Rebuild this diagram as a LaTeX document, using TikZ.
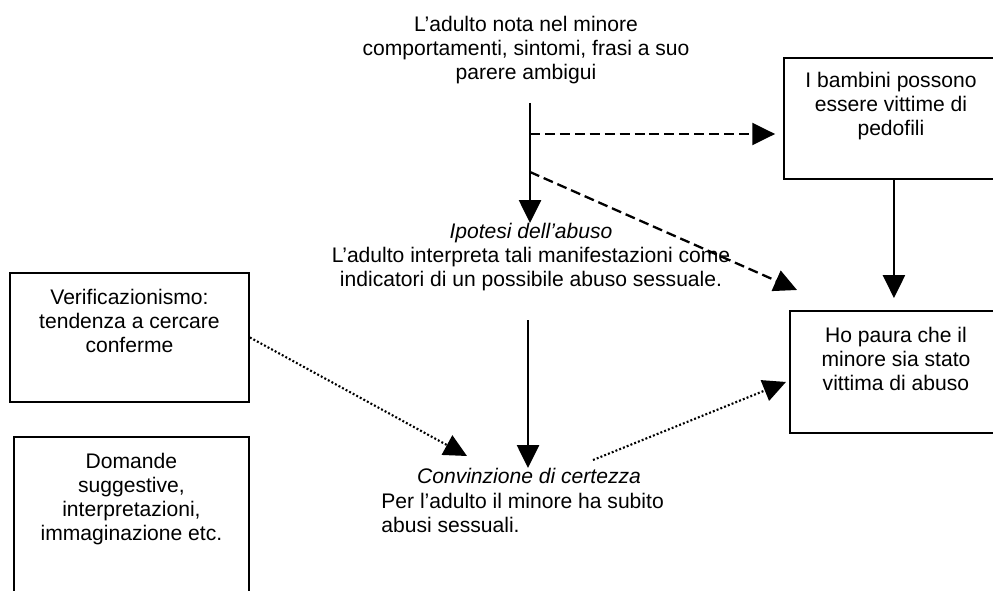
\documentclass[tikz,border=0pt]{standalone}
\usepackage{fontspec}
\setmainfont{Liberation Sans}
\usetikzlibrary{arrows.meta}

\begin{document}
\begin{tikzpicture}[x=0.02cm,y=-0.02cm,
  txt/.style={inner sep=0pt,align=center,font=\fontsize{12}{13.6}\selectfont},
  box/.style={draw,line width=1.1pt,anchor=north west,inner sep=0pt},
  arr/.style={line width=1.3pt,-{Triangle[length=13pt,width=12.5pt]}},
  dasharr/.style={arr,dash pattern=on 5.7pt off 2.8pt},
  dotarr/.style={arr,line width=1.2pt,dash pattern=on 1.1pt off 1.2pt}]
%Рамка рисунка
\useasboundingbox (0,0) rectangle (993,591);
\clip (0,0) rectangle (993,591);
%Тексты по центру
\node[txt,anchor=north] (nota) at (526,16) {L’adulto nota nel minore\\comportamenti, sintomi, frasi a suo\\parere ambigui};
\node[txt,anchor=north] (ipotesi) at (531,223) {\textit{Ipotesi dell’abuso}\\L’adulto interpreta tali manifestazioni come\\indicatori di un possibile abuso sessuale.};
\node[txt,anchor=north] (conv) at (529,468) {\textit{Convinzione di certezza}};
\node[txt,anchor=north west,align=left] (adulto) at (381,493) {Per l’adulto il minore ha subito\\abusi sessuali.};
%Рамки справа
\node[box,minimum width=4.28cm,minimum height=2.42cm] (bam) at (783,57) {};
\node[txt,anchor=north] (bamtxt) at ([yshift=-0.3cm]bam.north) {I bambini possono\\essere vittime di\\pedofili};
\node[box,minimum width=4.24cm,minimum height=2.44cm] (paura) at (789,310) {};
\node[txt,anchor=north] (pauratxt) at ([yshift=-0.34cm]paura.north) {Ho paura che il\\minore sia stato\\vittima di abuso};
%Рамки слева
\node[box,minimum width=4.78cm,minimum height=2.58cm] (verif) at (9,272) {};
\node[txt,anchor=north] (veriftxt) at ([yshift=-0.34cm]verif.north) {Verificazionismo:\\tendenza a cercare\\conferme};
\node[box,minimum width=4.70cm,minimum height=3.4cm] (dom) at (13,436) {};
\node[txt,anchor=north] (domtxt) at ([yshift=-0.34cm]dom.north) {Domande\\suggestive,\\interpretazioni,\\immaginazione etc.};
%Сплошные стрелки
\coordinate (v1) at (530,103);
\draw[arr] (v1) -- (v1 |- ipotesi.north);
\draw[arr,shorten >=6.8pt] ([xshift=0.06cm]bam.south) -- ([xshift=0.06cm]bam.south |- paura.north);
\coordinate (v3) at (528,320);
\draw[arr] (v3) -- (v3 |- conv.north);
%Штриховые стрелки
\coordinate (b1) at (530,134);%ответвление вправо
\coordinate (b2) at (530,172);%ответвление по диагонали
\draw[dasharr,shorten >=4.5pt] (b1) -- (b1 -| bam.west);
\draw[dasharr] (b2) -- ([shift={(8,-20)}]paura.north west);
%Пунктирные стрелки
\coordinate (d1) at (467,456);
\coordinate (d2) at (593,460);
\draw[dotarr] (verif.east) -- (d1);
\draw[dotarr] (d2) -- ([shift={(-3,10)}]paura.west);
\end{tikzpicture}
\end{document}
